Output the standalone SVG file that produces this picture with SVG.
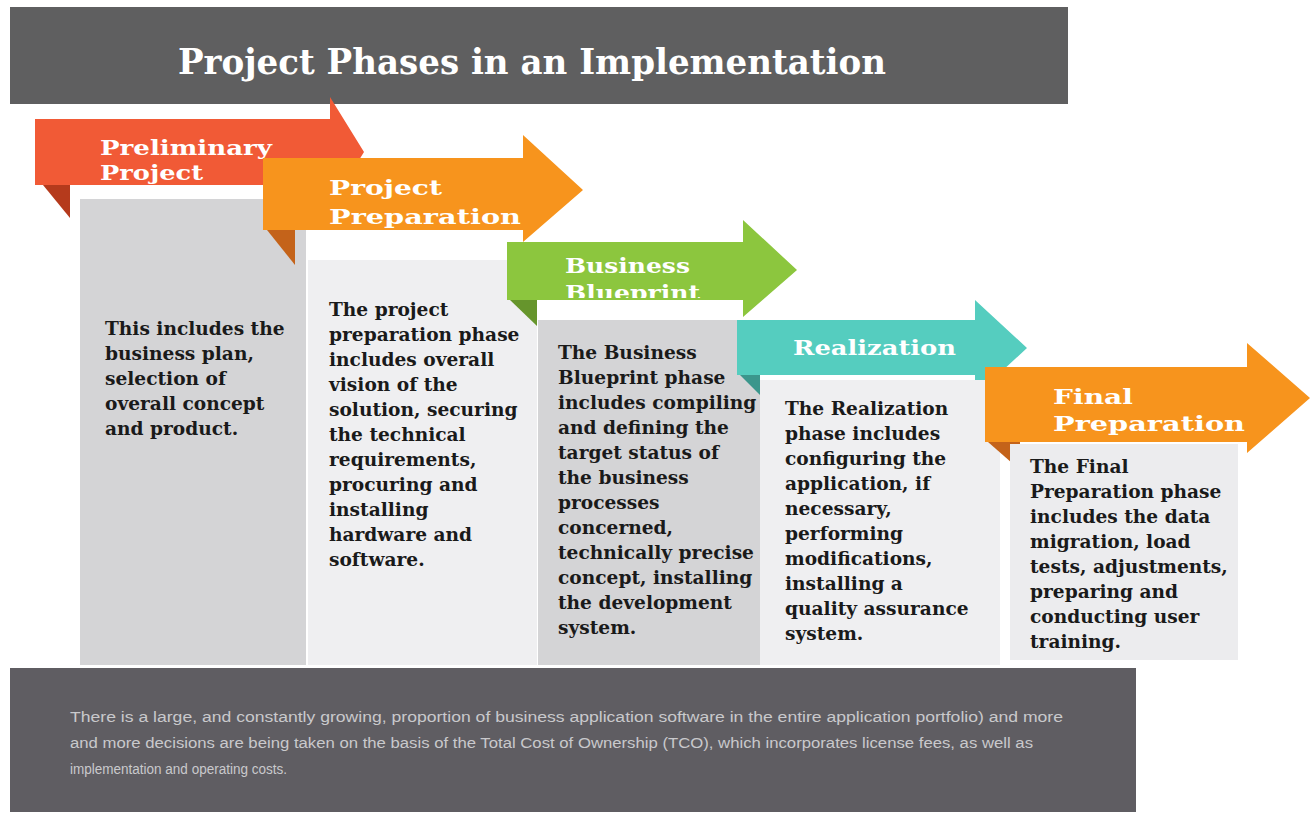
<svg xmlns="http://www.w3.org/2000/svg" width="1311" height="814" viewBox="0 0 1311 814">
<style>
.lbl{font-family:"DejaVu Serif","Liberation Serif",serif;font-weight:bold;fill:#ffffff;font-size:21px}
.body{font-family:"DejaVu Serif","Liberation Serif",serif;font-weight:bold;fill:#1a1a1a;font-size:18.6px}
.foot{font-family:"Liberation Sans",Arial,sans-serif;fill:#c9c9cc;font-size:14px}
.card-d{fill:#d4d4d6}
.card-l{fill:#efeff1}
</style>
<defs>
<clipPath id="bandclip"><rect x="507" y="242" width="240" height="56"/></clipPath>
</defs>
<rect width="1311" height="814" fill="#ffffff"/>
<g id="header">
<rect x="10" y="7" width="1058" height="97" fill="#5f5f60"/>
<text x="532" y="74" text-anchor="middle" font-family="DejaVu Serif, Liberation Serif, serif" font-weight="bold" font-size="36" fill="#ffffff" textLength="708" lengthAdjust="spacingAndGlyphs">Project Phases in an Implementation</text>
</g>
<g id="phase1">
<polygon points="35,119 330,119 330,97 364,152 330,207 330,185 35,185" fill="#f15a36"/>
<polygon points="43,185 70,185 70,218" fill="#b53a1c"/>
<rect class="card-d" x="80" y="199" width="226" height="466"/>
<text class="lbl" x="100" y="155" textLength="172" lengthAdjust="spacingAndGlyphs">Preliminary</text>
<text class="lbl" x="100" y="180" textLength="103" lengthAdjust="spacingAndGlyphs">Project</text>
<text class="body"><tspan x="105" y="335">This includes the</tspan><tspan x="105" y="360">business plan,</tspan><tspan x="105" y="385">selection of</tspan><tspan x="105" y="410">overall concept</tspan><tspan x="105" y="435">and product.</tspan></text>
</g>
<g id="phase2">
<polygon points="263,158 523,158 523,135 583,190 523,242 523,230 263,230" fill="#f7941d"/>
<polygon points="267,230 295,230 295,265" fill="#c4631a"/>
<rect class="card-l" x="308" y="260" width="229" height="405"/>
<text class="lbl" x="329" y="195" textLength="113" lengthAdjust="spacingAndGlyphs">Project</text>
<text class="lbl" x="329" y="224" textLength="192" lengthAdjust="spacingAndGlyphs">Preparation</text>
<text class="body"><tspan x="329" y="316">The project</tspan><tspan x="329" y="341">preparation phase</tspan><tspan x="329" y="366">includes overall</tspan><tspan x="329" y="391">vision of the</tspan><tspan x="329" y="416">solution, securing</tspan><tspan x="329" y="441">the technical</tspan><tspan x="329" y="466">requirements,</tspan><tspan x="329" y="491">procuring and</tspan><tspan x="329" y="516">installing</tspan><tspan x="329" y="541">hardware and</tspan><tspan x="329" y="566">software.</tspan></text>
</g>
<g id="phase3">
<polygon points="507,242 743,242 743,220 797,270 743,317 743,300 507,300" fill="#8cc63e"/>
<polygon points="510,300 537,300 537,326" fill="#66952c"/>
<rect class="card-d" x="538" y="320" width="222" height="345"/>
<text class="lbl" x="565" y="273" textLength="125" lengthAdjust="spacingAndGlyphs">Business</text>
<text class="lbl" x="565" y="300" textLength="135" lengthAdjust="spacingAndGlyphs" clip-path="url(#bandclip)">Blueprint</text>
<text class="body"><tspan x="558" y="359">The Business</tspan><tspan x="558" y="384">Blueprint phase</tspan><tspan x="558" y="409">includes compiling</tspan><tspan x="558" y="434">and defining the</tspan><tspan x="558" y="459">target status of</tspan><tspan x="558" y="484">the business</tspan><tspan x="558" y="509">processes</tspan><tspan x="558" y="534">concerned,</tspan><tspan x="558" y="559">technically precise</tspan><tspan x="558" y="584">concept, installing</tspan><tspan x="558" y="609">the development</tspan><tspan x="558" y="634">system.</tspan></text>
</g>
<g id="phase4">
<polygon points="737,320 975,320 975,300 1027,348 975,396 975,375 737,375" fill="#55cdbf"/>
<polygon points="740,375 760,375 760,395" fill="#3b968c"/>
<rect class="card-l" x="760" y="380" width="240" height="285"/>
<text class="lbl" x="793" y="355" textLength="163" lengthAdjust="spacingAndGlyphs">Realization</text>
<text class="body"><tspan x="785" y="415">The Realization</tspan><tspan x="785" y="440">phase includes</tspan><tspan x="785" y="465">configuring the</tspan><tspan x="785" y="490">application, if</tspan><tspan x="785" y="515">necessary,</tspan><tspan x="785" y="540">performing</tspan><tspan x="785" y="565">modifications,</tspan><tspan x="785" y="590">installing a</tspan><tspan x="785" y="615">quality assurance</tspan><tspan x="785" y="640">system.</tspan></text>
</g>
<g id="phase5">
<polygon points="985,367 1247,367 1247,343 1310,398 1247,453 1247,442 985,442" fill="#f7941d"/>
<polygon points="988,442 1020,442 1020,470" fill="#c4631a"/>
<rect x="1010" y="444" width="228" height="216" fill="#ececee"/>
<text class="lbl" x="1053" y="404" textLength="80" lengthAdjust="spacingAndGlyphs">Final</text>
<text class="lbl" x="1053" y="431" textLength="192" lengthAdjust="spacingAndGlyphs">Preparation</text>
<text class="body"><tspan x="1030" y="473">The Final</tspan><tspan x="1030" y="498">Preparation phase</tspan><tspan x="1030" y="523">includes the data</tspan><tspan x="1030" y="548">migration, load</tspan><tspan x="1030" y="573">tests, adjustments,</tspan><tspan x="1030" y="598">preparing and</tspan><tspan x="1030" y="623">conducting user</tspan><tspan x="1030" y="648">training.</tspan></text>
</g>
<g id="footer">
<rect x="10" y="668" width="1126" height="144" fill="#5f5d62"/>
<text class="foot" x="70" y="722" textLength="993" lengthAdjust="spacingAndGlyphs">There is a large, and constantly growing, proportion of business application software in the entire application portfolio) and more</text>
<text class="foot" x="70" y="748" textLength="963" lengthAdjust="spacingAndGlyphs">and more decisions are being taken on the basis of the Total Cost of Ownership (TCO), which incorporates license fees, as well as</text>
<text class="foot" x="70" y="774" textLength="217" lengthAdjust="spacingAndGlyphs">implementation and operating costs.</text>
</g>
<g id="connectors"></g>
</svg>
